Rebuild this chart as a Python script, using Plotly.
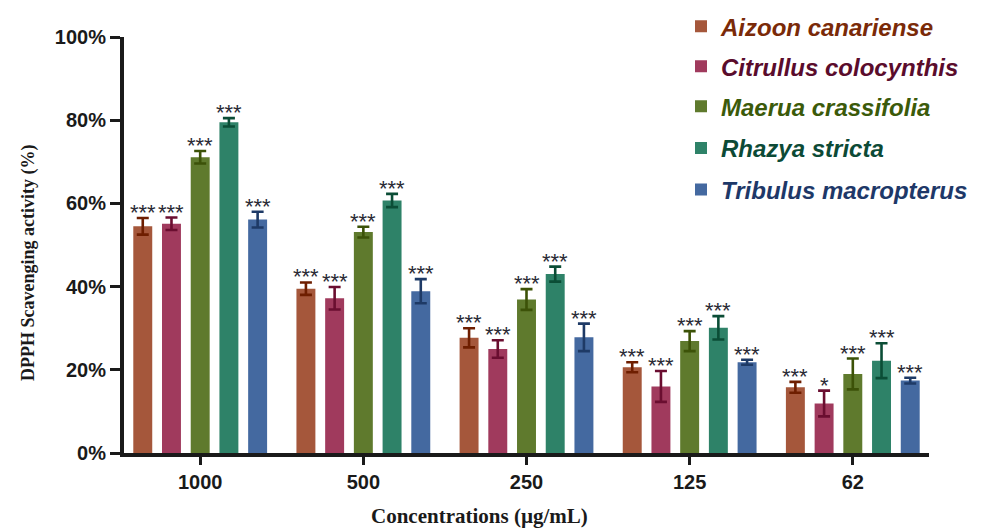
import plotly.graph_objects as go

concentrations = ["1000", "500", "250", "125", "62"]
species = ["Aizoon canariense", "Citrullus colocynthis", "Maerua crassifolia",
           "Rhazya stricta", "Tribulus macropterus"]

aizoon = [54.5, 39.5, 27.7, 20.6, 15.8]
aizoon_err = [2.0, 1.5, 2.3, 1.2, 1.3]
citrullus = [55.1, 37.2, 25.0, 16.0, 11.9]
citrullus_err = [1.5, 2.7, 2.1, 3.7, 3.1]
maerua = [71.1, 53.1, 36.9, 26.9, 19.0]
maerua_err = [1.5, 1.3, 2.5, 2.4, 3.7]
rhazya = [79.5, 60.7, 43.0, 30.1, 22.2]
rhazya_err = [1.0, 1.6, 1.8, 2.8, 4.2]
tribulus = [56.1, 38.9, 27.8, 21.8, 17.4]
tribulus_err = [1.9, 2.9, 3.3, 0.6, 0.7]

sig_aizoon = ["***"] * 5
sig_citrullus = ["***", "***", "***", "***", "*"]
sig_maerua = ["***"] * 5
sig_rhazya = ["***"] * 5
sig_tribulus = ["***"] * 5

y_ticks = [0, 20, 40, 60, 80, 100]
y_tick_labels = ["0%", "20%", "40%", "60%", "80%", "100%"]

values = [aizoon, citrullus, maerua, rhazya, tribulus]
errors = [aizoon_err, citrullus_err, maerua_err, rhazya_err, tribulus_err]
sigs = [sig_aizoon, sig_citrullus, sig_maerua, sig_rhazya, sig_tribulus]

bar_colors = ["#A5573B", "#A03A5D", "#5F7A2D", "#2E8268", "#4469A0"]
err_colors = ["#6E1E00", "#6A0E30", "#3C5208", "#0B4D36", "#1E3A66"]
text_colors = ["#7A2A08", "#5A0C2C", "#3B5A0A", "#0C4A36", "#1E3868"]

BARGAP = 0.12
n = len(species)
slot = (1 - BARGAP) / n
xs = list(range(len(concentrations)))

# page body margin offsets the figure by 8px; positions below are in window pixels
OFF = 8
PL, PT, PR, PB = 124 - OFF, 37 - OFF, 929 - OFF, 453 - OFF
W, H = 983, 530
PW, PH = PR - PL, PB - PT


def px_x(xw):
    return (xw - OFF - PL) / PW


def px_y(yw):
    return (PB - (yw - OFF)) / PH


fig = go.Figure()
legend_names = ["legend", "legend2", "legend3", "legend4", "legend5"]
for j, name in enumerate(species):
    fig.add_trace(go.Bar(
        x=xs, y=values[j], name=name,
        marker=dict(color=bar_colors[j], line=dict(width=0)),
        error_y=dict(type="data", array=errors[j], visible=True,
                     color=err_colors[j], thickness=2.6, width=6),
        legend=legend_names[j],
    ))

annotations = []
for j in range(n):
    for i in xs:
        annotations.append(dict(
            x=i + (j - (n - 1) / 2) * slot, y=values[j][i] + errors[j][i],
            xref="x", yref="y", text=sigs[j][i], showarrow=False,
            yanchor="bottom", yshift=-9,
            font=dict(family="Liberation Sans, Arial", size=22, color="#2a2a35"),
        ))

annotations.append(dict(
    x=px_x(28), y=px_y(263), xref="paper", yref="paper",
    text="<b>DPPH Scavenging activity (%)</b>",
    showarrow=False, textangle=-90, xanchor="center", yanchor="middle",
    font=dict(family="Liberation Serif, Times New Roman", size=18, color="#1a1a1a"),
))

annotations.append(dict(
    x=px_x(479), y=px_y(516), xref="paper", yref="paper",
    text="<b>Concentrations (µg/mL)</b>", showarrow=False,
    xanchor="center", yanchor="middle",
    font=dict(family="Liberation Serif, Times New Roman", size=21, color="#1a1a1a"),
))

row_centers = [26.7, 66.7, 106.7, 148.3, 190.0]
layout_legends = {}
for j, ln in enumerate(legend_names):
    layout_legends[ln] = dict(
        x=px_x(681), xanchor="left",
        y=px_y(row_centers[j]), yanchor="middle",
        bgcolor="rgba(0,0,0,0)", borderwidth=0,
        font=dict(family="Liberation Sans, Arial", size=24, color=text_colors[j],
                  weight="bold", style="italic"),
    )

fig.update_layout(
    width=W, height=H,
    margin=dict(l=PL, r=W - PR, t=PT, b=H - PB, autoexpand=False),
    paper_bgcolor="white", plot_bgcolor="white",
    barmode="group", bargap=BARGAP, bargroupgap=0.34,
    showlegend=True,
    annotations=annotations,
    **layout_legends,
)

fig.update_xaxes(
    range=[-0.467, 4.467], tickmode="array", tickvals=xs, ticktext=concentrations,
    showline=True, linewidth=4, linecolor="#1a1a1a", showgrid=False, zeroline=False,
    ticks="outside", ticklen=8, tickwidth=3, tickcolor="#1a1a1a",
    tickfont=dict(family="Liberation Sans, Arial", size=20, color="#1a1a1a", weight="bold"),
)
fig.update_yaxes(
    range=[0, 100], tickmode="array", tickvals=y_ticks, ticktext=y_tick_labels,
    showline=True, linewidth=4, linecolor="#1a1a1a",
    showgrid=False, zeroline=False,
    ticks="outside", ticklen=10, tickwidth=3, tickcolor="#1a1a1a",
    tickfont=dict(family="Liberation Sans, Arial", size=20, color="#1a1a1a", weight="bold"),
)

fig.write_html("out.html")
